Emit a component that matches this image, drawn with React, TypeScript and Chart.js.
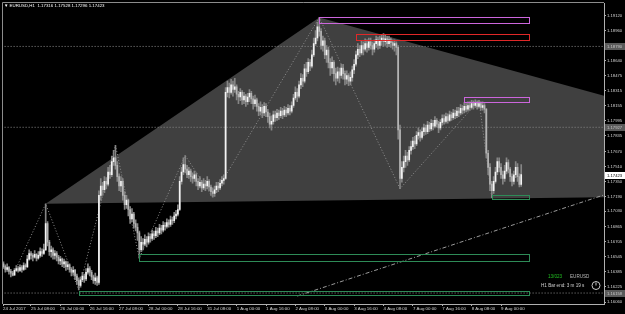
import React, { useEffect, useRef } from 'react';
import { Chart, registerables } from 'chart.js';
Chart.register(...registerables);

// prices are stored as points above 1.16000 (1 point = 0.00001)
const BASE = 1.16;
const PT = 100000;
const P = (v: number) => BASE + v / PT;

const closes = [
  470, 440, 410, 430, 390, 370, 350, 400, 420, 400,
  430, 410, 450, 440, 520, 580, 560, 540, 570, 530,
  560, 600, 580, 620, 900, 700, 600, 620, 560, 580,
  540, 500, 520, 470, 490, 440, 460, 410, 380, 400,
  340, 290, 240, 300, 340, 310, 380, 420, 380, 330,
  290, 320, 270, 1200, 1300, 1260, 1350, 1320, 1450, 1420,
  1560, 1600, 1520, 1400, 1300, 1350, 1200, 1100, 1150, 1050,
  950, 1000, 900, 860, 800, 620, 700, 680, 730, 700,
  760, 740, 790, 770, 820, 800, 850, 830, 880, 870,
  910, 890, 940, 930, 980, 1000, 1050, 1350, 1450, 1530,
  1480, 1420, 1460, 1400, 1380, 1420, 1350, 1300, 1340, 1280,
  1320, 1300, 1350, 1290, 1240, 1220, 1260, 1300, 1280, 1330,
  1360, 1380, 2300, 2350, 2300, 2380, 2330, 2360, 2280, 2250,
  2300, 2220, 2260, 2200, 2250, 2290, 2230, 2180, 2220, 2150,
  2100, 2140, 2080, 2150, 2090, 2040, 1960, 1990, 2060, 2030,
  2080, 2050, 2100, 2060, 2110, 2080, 2130, 2100, 2160, 2240,
  2300, 2260, 2380, 2450, 2420, 2550, 2520, 2620, 2580, 2700,
  2820, 2880, 3000, 2950, 2800, 2850, 2700, 2750, 2620, 2560,
  2620, 2500, 2450, 2520, 2480, 2560, 2500, 2440, 2480, 2420,
  2460, 2540, 2600, 2700, 2760, 2720, 2800, 2760, 2820, 2780,
  2840, 2800, 2760, 2820, 2860, 2800, 2850, 2880, 2840, 2870,
  2820, 2860, 2830, 2800, 2820, 2780, 1900, 1380, 1500, 1560,
  1620, 1580, 1680, 1720, 1780, 1750, 1840, 1870, 1820, 1880,
  1920, 1880, 1950, 1910, 1970, 1940, 2000, 1960, 1920, 1980,
  2020, 1990, 2040, 2000, 2060, 2030, 2080, 2050, 2100, 2080,
  2130, 2110, 2150, 2120, 2160, 2140, 2180, 2160, 2190, 2150,
  2180, 2140, 2160, 2120, 1650, 1500, 1320, 1250, 1350, 1450,
  1560, 1500, 1420, 1380, 1460, 1550, 1480, 1400, 1350, 1420,
  1500, 1400, 1316, 1423,
];

const highs = [
  510, 490, 460, 470, 440, 410, 390, 420, 450, 440,
  460, 450, 480, 470, 560, 620, 600, 580, 610, 580,
  600, 640, 630, 680, 1110, 920, 720, 660, 640, 610,
  600, 560, 550, 530, 520, 500, 490, 470, 430, 440,
  410, 360, 320, 330, 380, 360, 420, 470, 440, 400,
  350, 370, 340, 1250, 1380, 1340, 1400, 1390, 1500, 1520,
  1620, 1680, 1735, 1560, 1430, 1400, 1380, 1240, 1200, 1160,
  1080, 1060, 1020, 940, 900, 820, 760, 740, 780, 760,
  800, 790, 830, 820, 860, 850, 890, 880, 920, 910,
  950, 940, 980, 970, 1020, 1040, 1100, 1400, 1500, 1600,
  1625, 1520, 1500, 1480, 1440, 1460, 1440, 1380, 1400, 1360,
  1380, 1360, 1400, 1370, 1310, 1280, 1300, 1340, 1340, 1370,
  1400, 1420, 2350, 2420, 2400, 2440, 2420, 2450, 2380, 2310,
  2340, 2320, 2300, 2280, 2290, 2330, 2310, 2260, 2270, 2240,
  2180, 2200, 2170, 2190, 2180, 2120, 2080, 2050, 2100, 2100,
  2120, 2110, 2140, 2130, 2150, 2140, 2170, 2160, 2200, 2280,
  2360, 2340, 2420, 2500, 2490, 2600, 2620, 2660, 2650, 2750,
  2880, 2960, 3050, 3099, 2980, 2900, 2880, 2800, 2780, 2660,
  2680, 2640, 2560, 2570, 2560, 2600, 2600, 2530, 2530, 2500,
  2520, 2580, 2650, 2740, 2820, 2800, 2850, 2840, 2870, 2860,
  2880, 2880, 2840, 2860, 2900, 2890, 2900, 2920, 2928, 2920,
  2900, 2900, 2880, 2860, 2860, 2840, 2800, 1950, 1560, 1620,
  1680, 1660, 1720, 1780, 1820, 1830, 1880, 1920, 1900, 1920,
  1960, 1950, 1990, 1980, 2010, 2000, 2040, 2020, 1990, 2010,
  2060, 2060, 2080, 2070, 2100, 2090, 2120, 2110, 2140, 2140,
  2170, 2160, 2190, 2180, 2200, 2200, 2214, 2210, 2220, 2210,
  2214, 2200, 2200, 2180, 2130, 1680, 1540, 1350, 1400, 1500,
  1600, 1600, 1540, 1460, 1520, 1600, 1580, 1500, 1430, 1460,
  1560, 1540, 1430, 1528,
];

const lows = [
  430, 420, 380, 390, 360, 330, 340, 350, 390, 380,
  390, 380, 400, 410, 430, 510, 520, 500, 530, 500,
  520, 540, 550, 570, 610, 660, 560, 540, 520, 520,
  500, 470, 460, 440, 430, 400, 410, 380, 340, 350,
  300, 250, 190, 220, 280, 270, 290, 360, 340, 300,
  260, 250, 240, 250, 1150, 1200, 1230, 1270, 1300, 1380,
  1400, 1520, 1480, 1350, 1250, 1240, 1150, 1050, 1060, 980,
  900, 920, 850, 820, 720, 530, 600, 620, 660, 650,
  680, 700, 720, 730, 750, 760, 780, 790, 810, 830,
  850, 860, 870, 890, 910, 950, 980, 1040, 1320, 1420,
  1440, 1390, 1380, 1350, 1330, 1350, 1300, 1260, 1280, 1240,
  1260, 1250, 1270, 1250, 1200, 1180, 1190, 1230, 1240, 1260,
  1300, 1320, 1370, 2250, 2240, 2280, 2260, 2300, 2220, 2180,
  2210, 2170, 2180, 2150, 2170, 2200, 2180, 2120, 2150, 2100,
  2050, 2060, 2030, 2050, 2040, 1980, 1920, 1895, 1960, 1990,
  2000, 2010, 2030, 2020, 2040, 2040, 2060, 2060, 2080, 2140,
  2220, 2200, 2240, 2340, 2360, 2400, 2470, 2500, 2530, 2560,
  2680, 2800, 2850, 2900, 2760, 2740, 2660, 2620, 2560, 2480,
  2500, 2420, 2380, 2420, 2400, 2450, 2440, 2380, 2390, 2370,
  2380, 2420, 2500, 2580, 2660, 2680, 2700, 2700, 2740, 2730,
  2750, 2760, 2700, 2730, 2780, 2760, 2770, 2800, 2790, 2800,
  2780, 2790, 2780, 2760, 2740, 2700, 1800, 1272, 1340, 1450,
  1500, 1520, 1560, 1640, 1690, 1700, 1730, 1800, 1780, 1800,
  1840, 1850, 1860, 1880, 1890, 1900, 1920, 1930, 1870, 1900,
  1950, 1960, 1970, 1970, 1990, 2000, 2010, 2020, 2030, 2040,
  2060, 2070, 2080, 2090, 2100, 2110, 2120, 2120, 2140, 2120,
  2130, 2110, 2110, 2080, 1600, 1420, 1250, 1176, 1220, 1330,
  1420, 1450, 1380, 1320, 1350, 1430, 1440, 1350, 1300, 1320,
  1390, 1350, 1290, 1296,
];

const timeTickBars = [0, 16, 32, 48, 64, 80, 96, 112, 128, 144, 160, 176, 192, 208, 224, 240, 256, 272];
const timeTickLabels = [
  '24 Jul 2017', '25 Jul 08:00', '26 Jul 00:00', '26 Jul 16:00', '27 Jul 08:00', '28 Jul 00:00',
  '28 Jul 16:00', '31 Jul 08:00', '1 Aug 00:00', '1 Aug 16:00', '2 Aug 08:00', '3 Aug 00:00',
  '3 Aug 16:00', '4 Aug 08:00', '7 Aug 00:00', '7 Aug 16:00', '8 Aug 08:00', '9 Aug 00:00',
];
const priceTicks = [
  1.19120, 1.18960, 1.18640, 1.18475, 1.18315, 1.18155, 1.17995, 1.17835, 1.17670, 1.17510,
  1.17350, 1.17190, 1.17030, 1.16865, 1.16705, 1.16545, 1.16385, 1.16225, 1.16060,
];

const zigzagBars = [6, 24, 42, 62, 75, 100, 115, 173, 217, 260, 267];
const zigzagPrices = [340, 1110, 190, 1735, 530, 1625, 1180, 3099, 1272, 2214, 1176];

const triangleBars = [24, 173, 521];
const trianglePrices = [1110, 3099, 1223];

const rectStartBars = [173, 193, 252, 75, 42, 267];
const rectEndBars = [287, 287, 287, 287, 287, 287];
const rectTopPrices = [3099, 2928, 2246, 573, 179, 1202];
const rectBottomPrices = [3035, 2854, 2193, 500, 137, 1165];
const rectColors = ['#cc66dd', '#e02828', '#cc66dd', '#2e8b57', '#2e8b57', '#2e8b57'];

const hLinePrices = [2790, 1927, 158];
const trendBars = [161, 340];
const trendPrices = [126, 1282];

const FONT = 'Liberation Sans, Arial, sans-serif';
const X_MIN = 0.75;
const X_MAX = 328.1;
const Y_MIN = 1.16041;
const Y_MAX = 1.19248;

const overlay = {
  id: 'overlay',
  beforeDraw(chart: any) {
    const ctx = chart.ctx;
    ctx.save();
    ctx.fillStyle = '#000000';
    ctx.fillRect(0, 0, chart.width, chart.height);
    ctx.restore();
  },
  beforeDatasetsDraw(chart: any) {
    const { ctx, chartArea: a, scales } = chart;
    const x = scales.x, y = scales.y;
    ctx.save();
    ctx.beginPath();
    ctx.rect(a.left, a.top, a.right - a.left, a.bottom - a.top);
    ctx.clip();
    ctx.beginPath();
    triangleBars.forEach((b, k) => {
      const px = x.getPixelForValue(b);
      const py = y.getPixelForValue(P(trianglePrices[k]));
      if (k === 0) ctx.moveTo(px, py); else ctx.lineTo(px, py);
    });
    ctx.closePath();
    ctx.fillStyle = '#404040';
    ctx.fill();
    ctx.restore();
  },
  afterDatasetsDraw(chart: any) {
    const { ctx, chartArea: a, scales } = chart;
    const x = scales.x, y = scales.y;
    ctx.save();
    ctx.beginPath();
    ctx.rect(a.left, a.top, a.right - a.left, a.bottom - a.top);
    ctx.clip();
    ctx.lineWidth = 1;
    rectStartBars.forEach((b, k) => {
      const x1 = Math.round(x.getPixelForValue(b)) + 0.5;
      const x2 = Math.round(x.getPixelForValue(rectEndBars[k])) + 0.5;
      const y1 = Math.round(y.getPixelForValue(P(rectTopPrices[k]))) + 0.5;
      const y2 = Math.round(y.getPixelForValue(P(rectBottomPrices[k]))) + 0.5;
      ctx.strokeStyle = rectColors[k];
      ctx.strokeRect(x1, y1, x2 - x1, y2 - y1);
    });
    ctx.restore();
  },
  afterDraw(chart: any) {
    const { ctx, chartArea: a, scales } = chart;
    const y = scales.y;
    ctx.save();
    // window frame
    ctx.strokeStyle = '#8c8c8c';
    ctx.lineWidth = 1;
    ctx.beginPath();
    ctx.moveTo(2.5, a.bottom);
    ctx.lineTo(2.5, 2.5);
    ctx.lineTo(a.right, 2.5);
    ctx.stroke();

    // title
    ctx.font = `4.4px ${FONT}`;
    ctx.textBaseline = 'middle';
    ctx.textAlign = 'left';
    ctx.fillStyle = '#ffffff';
    const n = closes.length - 1;
    const title = `\u25BC EURUSD,H1  ${P(closes[n - 1]).toFixed(5)} ${P(highs[n]).toFixed(5)} ${P(lows[n]).toFixed(5)} ${P(closes[n]).toFixed(5)}`;
    ctx.fillText(title, 4, 6);

    // price labels of lines
    const tag = (price: number, bg: string, fg: string) => {
      const py = Math.round(y.getPixelForValue(price));
      ctx.fillStyle = bg;
      ctx.fillRect(a.right + 1, py - 3, 21, 7);
      ctx.fillStyle = fg;
      ctx.font = `4.2px ${FONT}`;
      ctx.fillText(price.toFixed(5), a.right + 3, py + 0.5);
    };
    hLinePrices.forEach((v) => tag(P(v), '#5a5a5a', '#c8c8c8'));
    tag(P(closes[n]), '#ffffff', '#000000');

    // info panel
    ctx.font = `4.6px ${FONT}`;
    ctx.fillStyle = '#22c022';
    ctx.fillText('13/023', 548, 277);
    ctx.fillStyle = '#b8b8b8';
    ctx.fillText('EURUSD', 570, 277);
    ctx.fillStyle = '#d0d0d0';
    ctx.fillText('H1 Bar end: 3 m 19 s', 541, 286);
    ctx.strokeStyle = '#c8c8c8';
    ctx.beginPath();
    ctx.arc(596, 285.5, 4, 0, Math.PI * 2);
    ctx.moveTo(596, 285.5);
    ctx.lineTo(596, 282.5);
    ctx.stroke();
    ctx.restore();
  },
};

export default function App() {
  const ref = useRef<HTMLCanvasElement>(null);
  useEffect(() => {
    const canvas = ref.current!;
    const opens = closes.map((c, i) => (i === 0 ? c : closes[i - 1]));
    const wick = closes.map((_, i) => ({ x: i, y: [P(lows[i]), P(highs[i])] }));
    const body = closes.map((c, i) => ({ x: i, y: [P(opens[i]), P(c)] }));
    const bodyColors = closes.map((c, i) => (c >= opens[i] ? '#f4f4f4' : '#b4b4b4'));
    const hlines = hLinePrices.map((v) => ({
      type: 'line' as const,
      data: [{ x: 0, y: P(v) }, { x: 340, y: P(v) }],
      borderColor: '#8a8a8a',
      borderWidth: 1,
      borderDash: [1, 2],
      pointRadius: 0,
      order: 6,
    }));
    const chart = new Chart(canvas, {
      type: 'bar',
      data: {
        datasets: [
          ...hlines,
          {
            type: 'line',
            data: zigzagBars.map((b, k) => ({ x: b, y: P(zigzagPrices[k]) })),
            borderColor: '#8f8f8f',
            borderWidth: 1,
            borderDash: [1, 2],
            pointRadius: 0,
            order: 5,
          },
          {
            type: 'line',
            data: trendBars.map((b, k) => ({ x: b, y: P(trendPrices[k]) })),
            borderColor: '#9a9a9a',
            borderWidth: 1,
            borderDash: [4, 2, 1, 2],
            pointRadius: 0,
            order: 5,
          },
          {
            type: 'bar',
            data: wick as any,
            backgroundColor: '#858585',
            barThickness: 1,
            grouped: false,
            order: 2,
          },
          {
            type: 'bar',
            data: body as any,
            backgroundColor: bodyColors,
            barThickness: 1,
            grouped: false,
            order: 1,
          },
        ] as any,
      },
      options: {
        animation: false,
        responsive: false,
        devicePixelRatio: 1,
        layout: { padding: { left: 3, top: 3, right: 0, bottom: 0 } },
        plugins: { legend: { display: false }, tooltip: { enabled: false }, title: { display: false } },
        scales: {
          x: {
            type: 'linear',
            min: X_MIN,
            max: X_MAX,
            offset: false,
            grid: { display: true, offset: false, drawOnChartArea: false, drawTicks: true, tickLength: 2, color: '#b0b0b0' },
            border: { display: true, color: '#b0b0b0' },
            afterBuildTicks: (s: any) => {
              s.ticks = timeTickBars.map((b) => ({ value: Math.max(b, X_MIN) }));
            },
            afterFit: (s: any) => { s.height = 10; },
            ticks: {
              autoSkip: false,
              maxRotation: 0,
              minRotation: 0,
              align: 'start',
              padding: 0,
              color: '#d4d4d4',
              font: { size: 4.4, family: FONT },
              callback: (_v: any, idx: number) => timeTickLabels[idx],
            },
          },
          y: {
            type: 'linear',
            position: 'right',
            min: Y_MIN,
            max: Y_MAX,
            grid: { display: true, drawOnChartArea: false, drawTicks: true, tickLength: 2, color: '#b0b0b0' },
            border: { display: true, color: '#b0b0b0' },
            afterBuildTicks: (s: any) => {
              s.ticks = priceTicks.map((v) => ({ value: v }));
            },
            afterFit: (s: any) => { s.width = 21; },
            ticks: {
              padding: 1,
              color: '#d4d4d4',
              font: { size: 4.2, family: FONT },
              callback: (v: any) => Number(v).toFixed(5),
            },
          },
        },
      } as any,
      plugins: [overlay],
    });
    return () => chart.destroy();
  }, []);
  return (
    <canvas
      ref={ref}
      width={625}
      height={314}
      style={{ position: 'fixed', left: 0, top: 0, width: 625, height: 314 }}
    />
  );
}
